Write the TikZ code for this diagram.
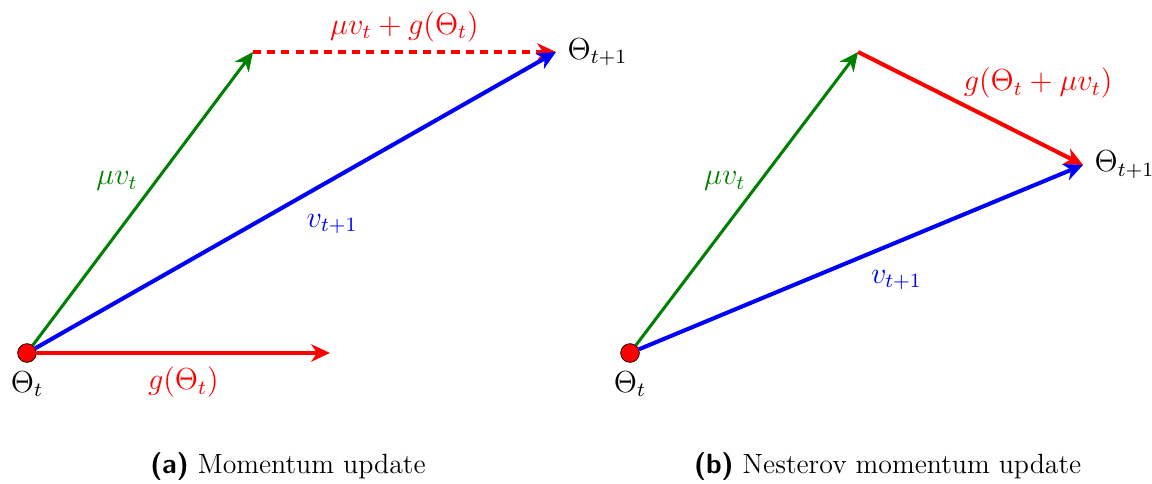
\documentclass[tikz,border=0pt]{standalone}
\usetikzlibrary{arrows.meta,positioning}
\definecolor{vgreen}{RGB}{0,128,0}
\begin{document}
\begin{tikzpicture}[
        vec/.style={line width=1.6pt, -{Stealth[length=2.6mm, width=2.4mm, inset=0.8mm]}},
        point/.style={circle, draw=black, line width=0.3pt, fill=red, minimum size=0.26cm, inner sep=0pt},
        lbl/.style={font=\fontsize{12}{14}\selectfont, inner sep=1pt},
        caption/.style={font=\fontsize{11}{13}\selectfont},
    ]
        \useasboundingbox (0,0) rectangle (16,6.722);

        % (a) Momentum update
        \node[point] (pa) at (0.375,1.819) {};
        \coordinate (ma) at (3.514,6.0);
        \coordinate (ta) at (7.722,6.0);
        \coordinate (ga) at (4.583,1.819);
        \node[lbl, below=0.08cm of pa] (thetaa) {$\Theta_t$};
        \node[lbl, right=0.12cm of ta] (nexta) {$\Theta_{t+1}$};

        \draw[vec, vgreen, line width=1.2pt] (pa) -- node[lbl, left=0.2cm, pos=0.56] {$\mu v_t$} (ma);
        \draw[vec, red, dash pattern=on 3.2pt off 2.4pt] (ma) -- node[lbl, above=0.08cm] {$\mu v_t + g(\Theta_t)$} (ta);
        \draw[vec, blue] (pa) -- node[lbl, below=0.42cm, pos=0.57] {$v_{t+1}$} (ta);
        \draw[vec, red] (pa) -- node[lbl, below=0.13cm] {$g(\Theta_t)$} (ga);

        % (b) Nesterov momentum update
        \node[point] (pb) at (8.75,1.819) {};
        \coordinate (mb) at (11.917,6.0);
        \coordinate (tb) at (15.042,4.431);
        \node[lbl, below=0.08cm of pb] (thetab) {$\Theta_t$};
        \node[lbl, right=0.12cm of tb] (nextb) {$\Theta_{t+1}$};

        \draw[vec, vgreen, line width=1.2pt] (pb) -- node[lbl, left=0.15cm, pos=0.56] {$\mu v_t$} (mb);
        \draw[vec, red] (mb) -- node[lbl, anchor=south west, pos=0.45] {$g(\Theta_t + \mu v_t)$} (tb);
        \draw[vec, blue] (pb) -- node[lbl, below=0.32cm, pos=0.58] {$v_{t+1}$} (tb);

        % Captions
        \node[caption] (capa) at (4.0,0.236) {\textsf{\textbf{(a)}} Momentum update};
        \node[caption] (capb) at (12.33,0.236) {\textsf{\textbf{(b)}} Nesterov momentum update};
    \end{tikzpicture}
\end{document}
